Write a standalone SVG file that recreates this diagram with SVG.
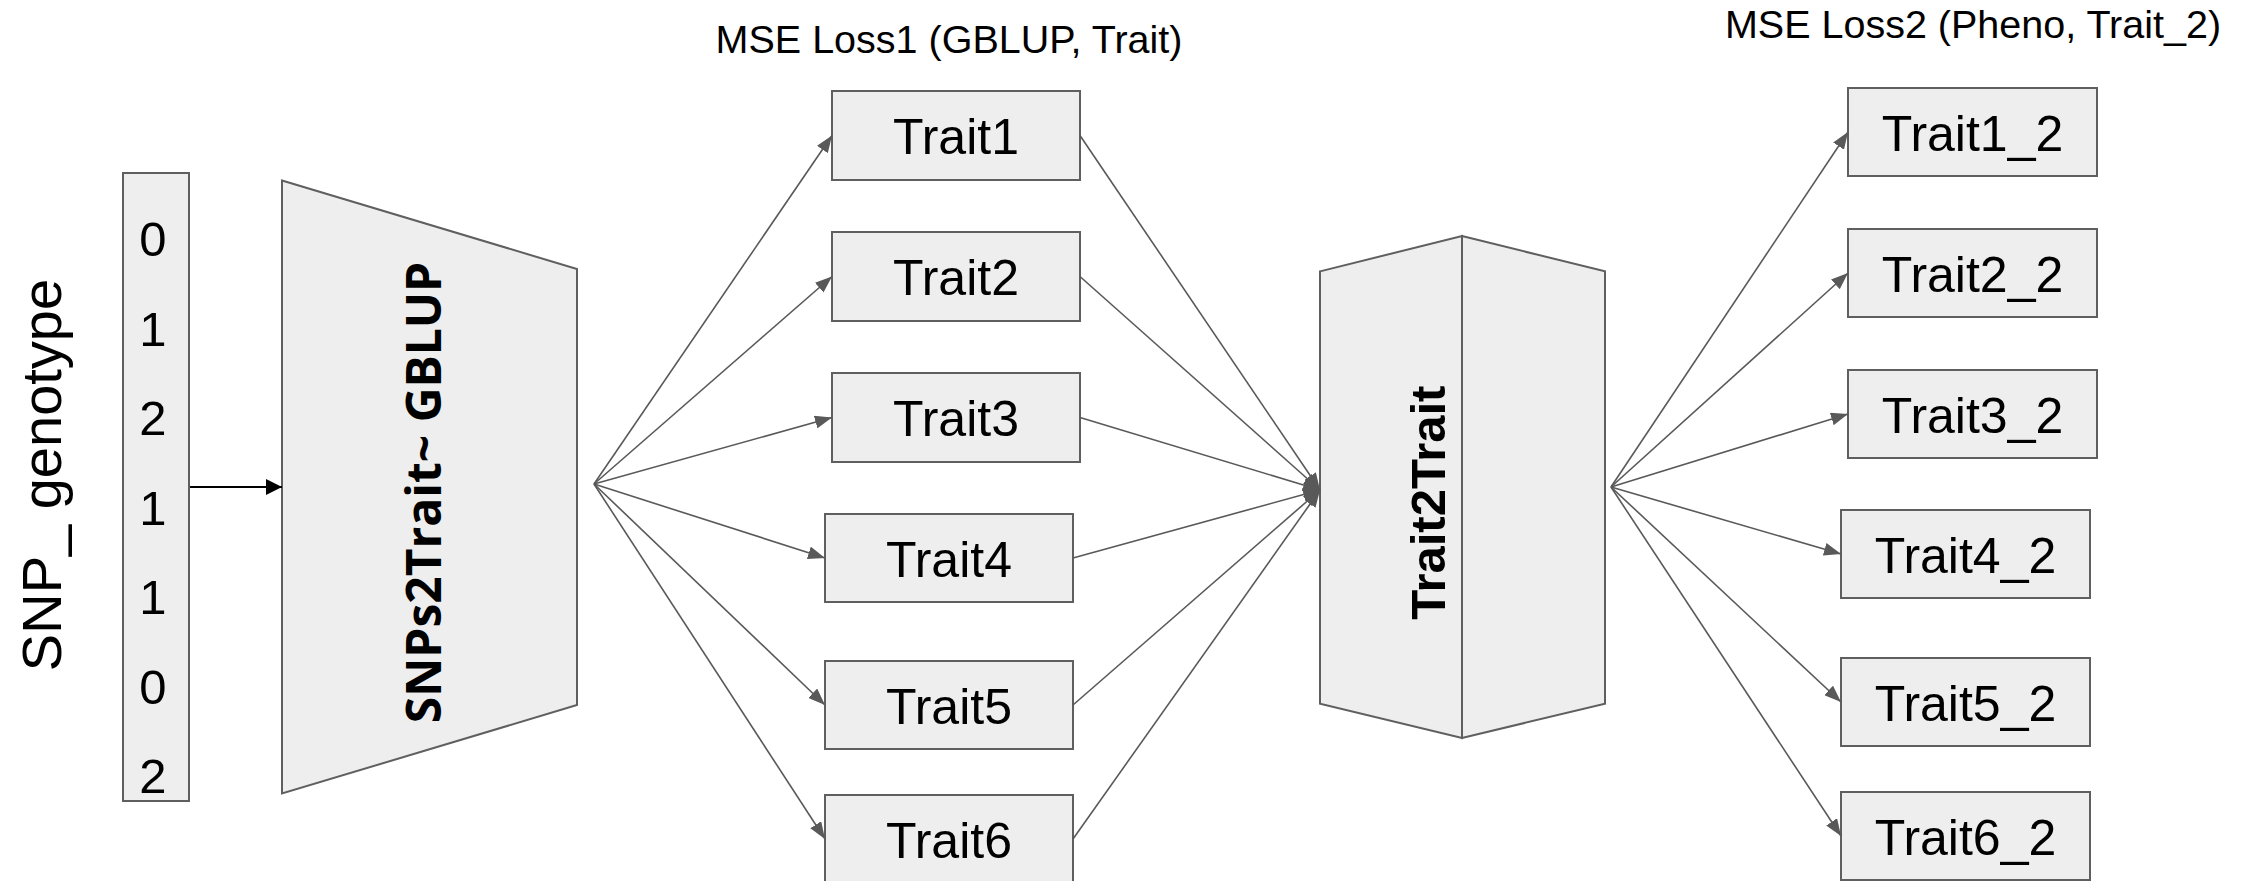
<svg xmlns="http://www.w3.org/2000/svg" width="2249" height="881" viewBox="0 0 2249 881">
<style>
.box{fill:#eeeeee;stroke:#5f5f5f;stroke-width:2}
.lbl{font-family:"Liberation Sans",Arial,sans-serif;font-size:50px;fill:#000;text-anchor:middle}
.dig{font-family:"Liberation Sans",Arial,sans-serif;font-size:49px;fill:#000;text-anchor:middle}
.ttl{font-family:"Liberation Sans",Arial,sans-serif;font-size:39.5px;fill:#000;text-anchor:middle}
.con{stroke:#595959;stroke-width:1.6;fill:none;marker-end:url(#ag)}
</style>
<defs>
<marker id="ag" markerUnits="userSpaceOnUse" markerWidth="17" markerHeight="13" refX="17" refY="6.5" orient="auto"><path d="M0,0 L17,6.5 L0,13 z" fill="#595959"/></marker>
<marker id="ab" markerUnits="userSpaceOnUse" markerWidth="16" markerHeight="16" refX="16" refY="8" orient="auto"><path d="M0,0 L16,8 L0,16 z" fill="#000"/></marker>
</defs>
<rect width="2249" height="881" fill="#fff"/>
<text class="ttl" x="949" y="53">MSE Loss1 (GBLUP, Trait)</text>
<text class="ttl" x="1973" y="38">MSE Loss2 (Pheno, Trait_2)</text>
<g id="snp-label"><text transform="translate(61,475) rotate(-90)" font-family="'Liberation Sans',Arial,sans-serif" font-size="56" text-anchor="middle">SNP_ genotype</text></g>
<g id="snp-vector">
<rect class="box" x="123" y="173" width="66" height="628"/>
<text class="dig" x="153" y="256">0</text>
<text class="dig" x="153" y="345.5">1</text>
<text class="dig" x="153" y="435">2</text>
<text class="dig" x="153" y="524.5">1</text>
<text class="dig" x="153" y="614">1</text>
<text class="dig" x="153" y="703.5">0</text>
<text class="dig" x="153" y="793">2</text>
</g>
<g id="snps2trait">
<polygon class="box" points="282,180.5 577,269 577,705 282,793.5"/>
<text transform="translate(441,492.5) rotate(-90)" font-family="'Open Sans','Noto Sans',sans-serif" font-weight="bold" font-size="48" text-anchor="middle">SNPs2Trait~ GBLUP</text>
</g>
<g id="trait1"><rect class="box" x="832" y="91" width="248" height="89"/><text class="lbl" x="956" y="154">Trait1</text></g>
<g id="trait2"><rect class="box" x="832" y="232" width="248" height="89"/><text class="lbl" x="956" y="295">Trait2</text></g>
<g id="trait3"><rect class="box" x="832" y="373" width="248" height="89"/><text class="lbl" x="956" y="436">Trait3</text></g>
<g id="trait4"><rect class="box" x="825" y="514" width="248" height="88"/><text class="lbl" x="949" y="576.5">Trait4</text></g>
<g id="trait5"><rect class="box" x="825" y="661" width="248" height="88"/><text class="lbl" x="949" y="723.5">Trait5</text></g>
<g id="trait6"><rect class="box" x="825" y="795" width="248" height="88"/><text class="lbl" x="949" y="857.5">Trait6</text></g>
<g id="trait2trait">
<polygon class="box" points="1320,271.4 1462,236 1462,738 1320,703.6"/>
<polygon class="box" points="1462,236 1605,271.4 1605,703.6 1462,738"/>
<text transform="translate(1445,502.7) rotate(-90)" font-family="'Liberation Sans',Arial,sans-serif" font-weight="bold" font-size="49" text-anchor="middle">Trait2Trait</text>
</g>
<g id="trait1_2"><rect class="box" x="1848" y="88" width="249" height="88"/><text class="lbl" x="1972.5" y="150.5">Trait1_2</text></g>
<g id="trait2_2"><rect class="box" x="1848" y="229" width="249" height="88"/><text class="lbl" x="1972.5" y="291.5">Trait2_2</text></g>
<g id="trait3_2"><rect class="box" x="1848" y="370" width="249" height="88"/><text class="lbl" x="1972.5" y="432.5">Trait3_2</text></g>
<g id="trait4_2"><rect class="box" x="1841" y="510" width="249" height="88"/><text class="lbl" x="1965.5" y="572.5">Trait4_2</text></g>
<g id="trait5_2"><rect class="box" x="1841" y="658" width="249" height="88"/><text class="lbl" x="1965.5" y="720.5">Trait5_2</text></g>
<g id="trait6_2"><rect class="box" x="1841" y="792" width="249" height="88"/><text class="lbl" x="1965.5" y="854.5">Trait6_2</text></g>
<g id="connectors">
<line x1="190" y1="487" x2="282" y2="487" stroke="#000" stroke-width="2" marker-end="url(#ab)"/>
<line class="con" x1="594" y1="484" x2="832" y2="135.5"/>
<line class="con" x1="594" y1="484" x2="832" y2="276.5"/>
<line class="con" x1="594" y1="484" x2="832" y2="417.5"/>
<line class="con" x1="594" y1="484" x2="825" y2="558"/>
<line class="con" x1="594" y1="484" x2="825" y2="705"/>
<line class="con" x1="594" y1="484" x2="825" y2="839"/>
<line class="con" x1="1080" y1="135.5" x2="1320" y2="490"/>
<line class="con" x1="1080" y1="276.5" x2="1320" y2="490"/>
<line class="con" x1="1080" y1="417.5" x2="1320" y2="490"/>
<line class="con" x1="1073" y1="558" x2="1320" y2="490"/>
<line class="con" x1="1073" y1="705" x2="1320" y2="490"/>
<line class="con" x1="1073" y1="839" x2="1320" y2="490"/>
<line class="con" x1="1611" y1="487" x2="1848" y2="132"/>
<line class="con" x1="1611" y1="487" x2="1848" y2="273"/>
<line class="con" x1="1611" y1="487" x2="1848" y2="414"/>
<line class="con" x1="1611" y1="487" x2="1841" y2="554"/>
<line class="con" x1="1611" y1="487" x2="1841" y2="702"/>
<line class="con" x1="1611" y1="487" x2="1841" y2="836"/>
</g>
</svg>
